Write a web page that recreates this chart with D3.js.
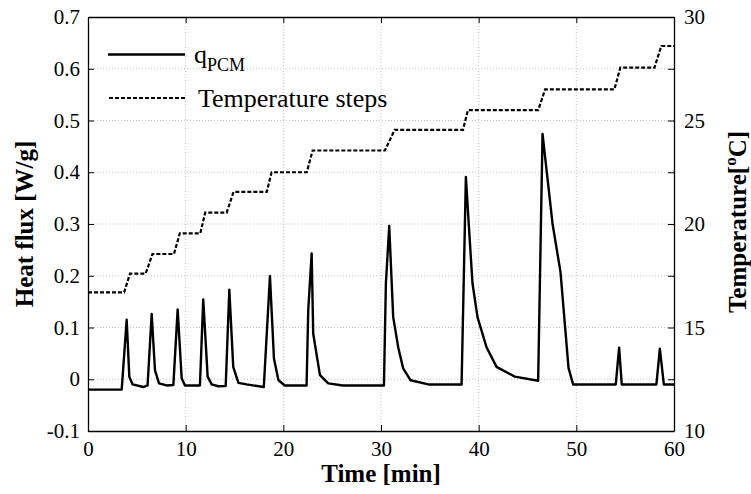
<!DOCTYPE html>
<html>
<head>
<meta charset="utf-8">
<script src="https://cdn.jsdelivr.net/npm/d3@7"></script>
<style>
  body { margin: 0; background: #fff; }
</style>
</head>
<body>
<div id="chart"></div>
<script>
// Chart values
const timeTicks = [0, 10, 20, 30, 40, 50, 60];
const fluxTicks = [-0.1, 0, 0.1, 0.2, 0.3, 0.4, 0.5, 0.6, 0.7];
const fluxTickLabels = ["-0.1", "0", "0.1", "0.2", "0.3", "0.4", "0.5", "0.6", "0.7"];
const tempTicks = [10, 12.5, 15, 17.5, 20, 22.5, 25, 27.5, 30];
const tempTickLabels = ["10", "", "15", "", "20", "", "25", "", "30"];

// heat flux q_PCM [W/g] vs time [min]
const qTime = [0, 3.45, 3.96, 4.23, 4.57, 5.66, 6.1, 6.52, 6.86, 7.27, 8.05, 8.74, 9.18, 9.59, 9.93, 11.46,
  11.8, 12.25, 12.66, 13.34, 14.1, 14.47, 14.87, 15.4, 16.24, 18.0, 18.63, 19.04, 19.5, 20.16, 22.38,
  22.55, 22.9, 23.06, 23.75, 24.6, 26.1, 30.3, 30.5, 30.84, 31.25, 31.76, 32.27, 33.03, 34.84, 38.25,
  38.69, 39.1, 39.37, 39.88, 40.8, 41.83, 43.7, 46.09, 46.54, 47.56, 48.38, 49.2, 49.67, 54.04,
  54.38, 54.65, 58.2, 58.55, 58.96, 60];
const qFlux = [-0.02, -0.02, 0.115, 0.005, -0.01, -0.015, -0.012, 0.126, 0.017, -0.008, -0.012, -0.011, 0.135, 0.002, -0.012, -0.012,
  0.154, 0.005, -0.01, -0.0135, -0.013, 0.173, 0.024, -0.007, -0.01, -0.015, 0.199, 0.04, -0.002, -0.012, -0.012,
  0.133, 0.243, 0.088, 0.008, -0.008, -0.012, -0.012, 0.185, 0.296, 0.12, 0.062, 0.021, -0.002, -0.01, -0.01,
  0.391, 0.265, 0.185, 0.12, 0.062, 0.024, 0.005, -0.003, 0.474, 0.301, 0.207, 0.022, -0.01, -0.01,
  0.061, -0.01, -0.01, 0.059, -0.01, -0.01];

// temperature steps [C] vs time [min]
const stepTime = [0, 3.7, 4.3, 5.9, 6.6, 8.8, 9.4, 11.5, 12.0, 14.2, 14.9, 18.3, 18.8, 22.4, 23.0,
  30.4, 31.4, 38.4, 38.9, 46.1, 46.8, 53.9, 54.5, 58.0, 58.7, 60];
const stepTemp = [16.7, 16.7, 17.6, 17.6, 18.55, 18.55, 19.55, 19.55, 20.55, 20.55, 21.55, 21.55, 22.5, 22.5, 23.55,
  23.55, 24.55, 24.55, 25.5, 25.5, 26.5, 26.5, 27.55, 27.55, 28.6, 28.6];

const serif = "'Liberation Serif', 'Times New Roman', 'DejaVu Serif', serif";

const svgWidth = 751;
const svgHeight = 494;
const margin = { top: 17, right: 77, bottom: 63, left: 88 };
const chartWidth = svgWidth - margin.left - margin.right;
const chartHeight = svgHeight - margin.top - margin.bottom;

const svg = d3.select("#chart")
  .append("svg")
  .attr("width", svgWidth)
  .attr("height", svgHeight)
  .attr("font-family", serif);

const chartG = svg.append("g")
  .attr("transform", `translate(${margin.left}, ${margin.top})`);

const x = d3.scaleLinear().domain([0, 60]).range([0, chartWidth]);
const y = d3.scaleLinear().domain([-0.1, 0.7]).range([chartHeight, 0]);
const yT = d3.scaleLinear().domain([10, 30]).range([chartHeight, 0]);

// grid
const gridG = chartG.append("g").attr("stroke", "#c4c4c4").attr("stroke-width", 1).attr("stroke-dasharray", "1,2");
gridG.selectAll("line.gx")
  .data(timeTicks.slice(1, -1))
  .enter().append("line")
  .attr("x1", d => x(d)).attr("x2", d => x(d))
  .attr("y1", 0).attr("y2", chartHeight);
gridG.selectAll("line.gy")
  .data(fluxTicks.slice(1, -1))
  .enter().append("line")
  .attr("x1", 0).attr("x2", chartWidth)
  .attr("y1", d => y(d)).attr("y2", d => y(d));

// axes (ticks pointing inward)
const tickStyle = g => {
  g.attr("font-family", serif).attr("font-size", 21);
  g.select(".domain").attr("stroke", "#000").attr("stroke-width", 1.3);
  g.selectAll(".tick line").attr("stroke", "#000").attr("stroke-width", 1);
  g.selectAll("text").attr("fill", "#000");
};

chartG.append("g")
  .attr("transform", `translate(0, ${chartHeight})`)
  .call(d3.axisBottom(x).tickValues(timeTicks).tickSizeInner(-6).tickSizeOuter(0).tickPadding(10))
  .call(tickStyle);

chartG.append("g")
  .call(d3.axisTop(x).tickValues(timeTicks).tickSizeInner(-6).tickSizeOuter(0).tickFormat(""))
  .call(tickStyle);

chartG.append("g")
  .call(d3.axisLeft(y).tickValues(fluxTicks).tickSizeInner(-6).tickSizeOuter(0).tickPadding(8)
    .tickFormat((d, i) => fluxTickLabels[i]))
  .call(tickStyle);

chartG.append("g")
  .attr("transform", `translate(${chartWidth}, 0)`)
  .call(d3.axisRight(yT).tickValues(tempTicks).tickSizeInner(-6).tickSizeOuter(0).tickPadding(10)
    .tickFormat((d, i) => tempTickLabels[i]))
  .call(tickStyle);

// lines
const qLine = d3.line().x(d => x(d[0])).y(d => y(d[1]));
const tLine = d3.line().x(d => x(d[0])).y(d => yT(d[1]));

chartG.append("path")
  .datum(stepTime.map((t, i) => [t, stepTemp[i]]))
  .attr("d", tLine)
  .attr("fill", "none")
  .attr("stroke", "#000")
  .attr("stroke-width", 2.2)
  .attr("stroke-dasharray", "4,2");

chartG.append("path")
  .datum(qTime.map((t, i) => [t, qFlux[i]]))
  .attr("d", qLine)
  .attr("fill", "none")
  .attr("stroke", "#000")
  .attr("stroke-width", 2.4)
  .attr("stroke-linejoin", "round");

// legend
const legendG = svg.append("g");
legendG.append("line")
  .attr("x1", 108).attr("x2", 185).attr("y1", 54.5).attr("y2", 54.5)
  .attr("stroke", "#000").attr("stroke-width", 2.4);
const qText = legendG.append("text")
  .attr("x", 194).attr("y", 63)
  .attr("font-size", 26);
qText.append("tspan").text("q");
qText.append("tspan").attr("dy", 8).attr("font-size", 18).text("PCM");

legendG.append("line")
  .attr("x1", 109).attr("x2", 185).attr("y1", 98).attr("y2", 98)
  .attr("stroke", "#000").attr("stroke-width", 2.2).attr("stroke-dasharray", "4,2");
legendG.append("text")
  .attr("x", 198).attr("y", 107)
  .attr("font-size", 26)
  .text("Temperature steps");

// axis titles
svg.append("text")
  .attr("x", 381).attr("y", 482)
  .attr("text-anchor", "middle")
  .attr("font-size", 25).attr("font-weight", "bold")
  .text("Time [min]");

svg.append("text")
  .attr("transform", "translate(33, 224) rotate(-90)")
  .attr("text-anchor", "middle")
  .attr("font-size", 25).attr("font-weight", "bold")
  .text("Heat flux [W/g]");

const rightTitle = svg.append("text")
  .attr("transform", "translate(746, 222) rotate(-90)")
  .attr("text-anchor", "middle")
  .attr("font-size", 25).attr("font-weight", "bold");
rightTitle.append("tspan").text("Temperature[");
rightTitle.append("tspan").attr("dy", -10).attr("font-size", 17).text("o");
rightTitle.append("tspan").attr("dy", 10).text("C]");
</script>
</body>
</html>
